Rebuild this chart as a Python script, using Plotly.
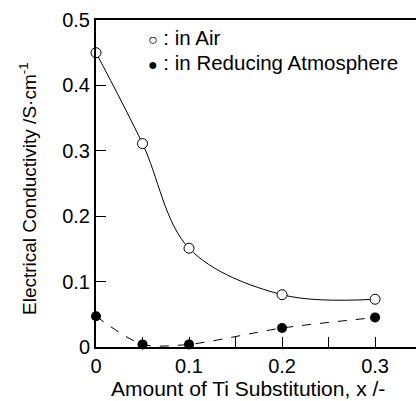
import plotly.graph_objects as go

x_vals = [0, 0.05, 0.1, 0.2, 0.3]
air = [0.45, 0.311, 0.151, 0.080, 0.073]
reducing = [0.047, 0.004, 0.004, 0.029, 0.045]

x_tick_vals = [0, 0.1, 0.2, 0.3]
x_tick_text = ["0", "0.1", "0.2", "0.3"]
y_tick_vals = [0, 0.1, 0.2, 0.3, 0.4, 0.5]
y_tick_text = ["0", "0.1", "0.2", "0.3", "0.4", "0.5"]

FONT = "Liberation Sans, Arial, sans-serif"

fig = go.Figure()
fig.add_trace(go.Scatter(
    x=x_vals, y=air, mode="lines+markers", name="in Air",
    line=dict(color="black", width=1, shape="spline"),
    marker=dict(symbol="circle", size=10, color="white", line=dict(color="black", width=1)),
    cliponaxis=False, showlegend=False))
fig.add_trace(go.Scatter(
    x=x_vals, y=reducing, mode="lines+markers", name="in Reducing Atmosphere",
    line=dict(color="black", width=1, shape="spline", smoothing=0.8, dash="dash"),
    marker=dict(symbol="circle", size=10, color="black", line=dict(color="black", width=0)),
    cliponaxis=False, showlegend=False))

fig.update_layout(
    width=416, height=401,
    margin=dict(l=96, r=0, t=20, b=54),
    plot_bgcolor="white", paper_bgcolor="white",
    font=dict(family=FONT, size=20, color="black"),
    xaxis=dict(range=[0, 0.344], showline=True, linewidth=2, linecolor="black", mirror=True,
               showgrid=False, zeroline=False, ticks="inside", ticklen=10, tickwidth=1,
               tickcolor="black", tickvals=x_tick_vals, ticktext=x_tick_text,
               minor=dict(dtick=0.05, tick0=0, ticks="inside", ticklen=10, tickwidth=1, tickcolor="black"),
               tickfont=dict(size=20)),
    yaxis=dict(range=[0, 0.5], showline=True, linewidth=2, linecolor="black", mirror=False,
               showgrid=False, zeroline=False, ticks="inside", ticklen=10, tickwidth=1,
               tickcolor="black", tickvals=y_tick_vals, ticktext=y_tick_text,
               tickfont=dict(size=20)),
)

fig.add_annotation(xref="paper", yref="paper", x=0.5 - 8/320, y=(347-388)/327,
                   text="Amount of Ti Substitution, x /-", showarrow=False,
                   xanchor="center", yanchor="middle", font=dict(size=21))
fig.add_annotation(xref="paper", yref="paper", x=(28-96)/320, y=(347-189)/327,
                   text="Electrical Conductivity /S\u00b7cm<sup>-1</sup>", showarrow=False,
                   textangle=-90, xanchor="center", yanchor="middle", font=dict(size=19))
fig.add_annotation(xref="paper", yref="paper", x=(146-96)/320, y=(347-37)/327,
                   text="<span style='font-size:16px'>\u25cb</span> : in Air", showarrow=False,
                   xanchor="left", yanchor="middle", font=dict(size=20.5))
fig.add_annotation(xref="paper", yref="paper", x=(146-96)/320, y=(347-62)/327,
                   text="<span style='font-size:16px'>\u25cf</span> : in Reducing Atmosphere", showarrow=False,
                   xanchor="left", yanchor="middle", font=dict(size=20.5))

fig.write_html("out.html", config={"displayModeBar": False},
               post_script="document.body.style.margin='0';")
